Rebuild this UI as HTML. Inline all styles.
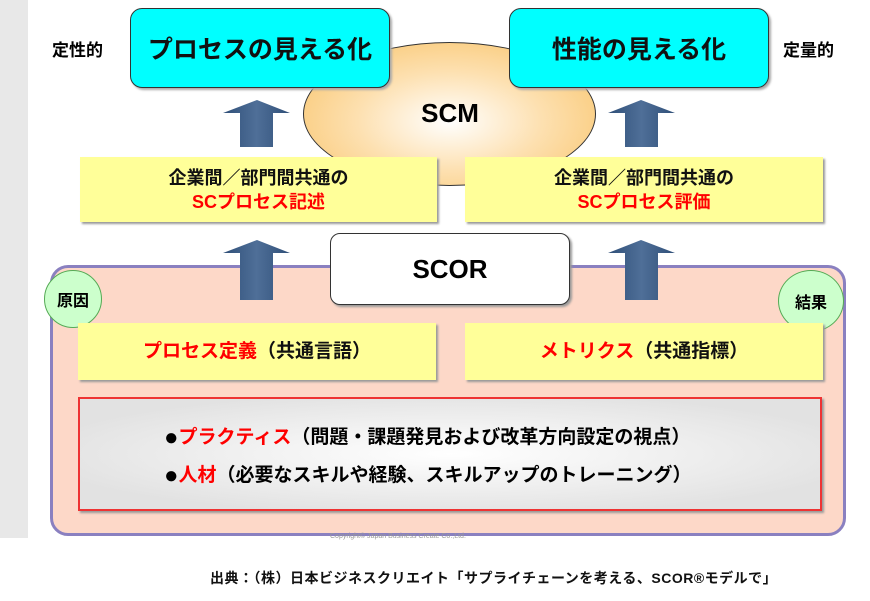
<!DOCTYPE html>
<html><head><meta charset="utf-8"><style>
body{margin:0;width:870px;height:601px;background:#fff;position:relative;overflow:hidden;font-family:"Liberation Sans","Noto Sans CJK JP",sans-serif;font-weight:bold;}
div{position:absolute;box-sizing:border-box;}
.c{display:flex;align-items:center;justify-content:center;text-align:center;}
.cy{background:#00ffff;border:1.5px solid #333;border-radius:12px;font-size:25px;color:#111;box-shadow:2px 2px 2px #aaa;}
.ye{background:#ffff99;box-shadow:2px 2px 2px #999;font-size:18px;line-height:24px;color:#111;}
.r{color:#f00;}
.b{font-size:24px;vertical-align:-2px;}
.circ{background:#ccffcc;border:1.5px solid #5a5;border-radius:50%;font-size:16px;}
</style></head><body>
<div style="left:0;top:0;width:28px;height:538px;background:#e8e8e8"></div>
<div style="left:50px;top:265px;width:796px;height:271px;background:#fdd8c8;border:3px solid #8a80c0;border-radius:18px;"></div>
<div style="left:303px;top:42px;width:293px;height:144px;border-radius:50%;border:1.5px solid #333;background:radial-gradient(ellipse at 50% 55%,#fff 0%,#fde0b0 45%,#f8c060 100%);"></div>
<div class="c" style="left:400px;top:96px;width:100px;height:35px;font-size:26px">SCM</div>
<div class="c cy" style="left:130px;top:8px;width:260px;height:80px">プロセスの見える化</div>
<div class="c cy" style="left:509px;top:8px;width:260px;height:80px">性能の見える化</div>
<div style="left:52px;top:36px;font-size:17px">定性的</div>
<div style="left:783px;top:36px;font-size:17px">定量的</div>
<svg style="position:absolute;left:0;top:0" width="870" height="601">
<defs><linearGradient id="g" x1="0" x2="1"><stop offset="0" stop-color="#2f4f78"/><stop offset=".5" stop-color="#4f6f98"/><stop offset="1" stop-color="#2f4f78"/></linearGradient></defs>
<g fill="url(#g)">
<polygon points="257,100 290,113 273,113 273,147 240,147 240,113 223,113"/>
<polygon points="641,100 675,113 658,113 658,147 625,147 625,113 608,113"/>
<polygon points="257,240 290,253 273,253 273,300 240,300 240,253 223,253"/>
<polygon points="641,240 675,253 658,253 658,300 625,300 625,253 608,253"/>
</g></svg>
<div class="c ye" style="left:80px;top:157px;width:357px;height:65px"><div style="position:static">企業間／部門間共通の<br><span class="r">SCプロセス記述</span></div></div>
<div class="c ye" style="left:465px;top:157px;width:358px;height:65px"><div style="position:static">企業間／部門間共通の<br><span class="r">SCプロセス評価</span></div></div>
<div class="c" style="left:330px;top:233px;width:240px;height:72px;background:#fff;border:1.5px solid #333;border-radius:10px;font-size:26px;box-shadow:2px 2px 2px #999">SCOR</div>
<div class="c circ" style="left:44px;top:270px;width:58px;height:58px">原因</div>
<div class="c circ" style="left:778px;top:270px;width:66px;height:62px">結果</div>
<div class="c ye" style="left:78px;top:323px;width:358px;height:57px;font-size:19px"><span><span class="r">プロセス定義</span>（共通言語）</span></div>
<div class="c ye" style="left:465px;top:323px;width:358px;height:57px;font-size:19px"><span><span class="r">メトリクス</span>（共通指標）</span></div>
<div style="left:78px;top:397px;width:744px;height:114px;border:2px solid #e33;background:radial-gradient(ellipse at 50% 50%,#fff 0%,#e2e2e2 80%);box-shadow:2px 2px 2px #999;font-size:19px;line-height:38px;padding:20px 0 0 84px;"><span class="b">●</span><span class="r">プラクティス</span>（問題・課題発見および改革方向設定の視点）<br><span class="b">●</span><span class="r">人材</span>（必要なスキルや経験、スキルアップのトレーニング）</div>
<div style="left:330px;top:533px;font-size:7px;color:#999;font-weight:normal">Copyright© Japan Business Create Co.,Ltd.</div>
<div style="left:210px;top:568px;font-size:14px;letter-spacing:0.5px;color:#111">出典：（株）日本ビジネスクリエイト「サプライチェーンを考える、SCOR®モデルで」</div>
</body></html>
